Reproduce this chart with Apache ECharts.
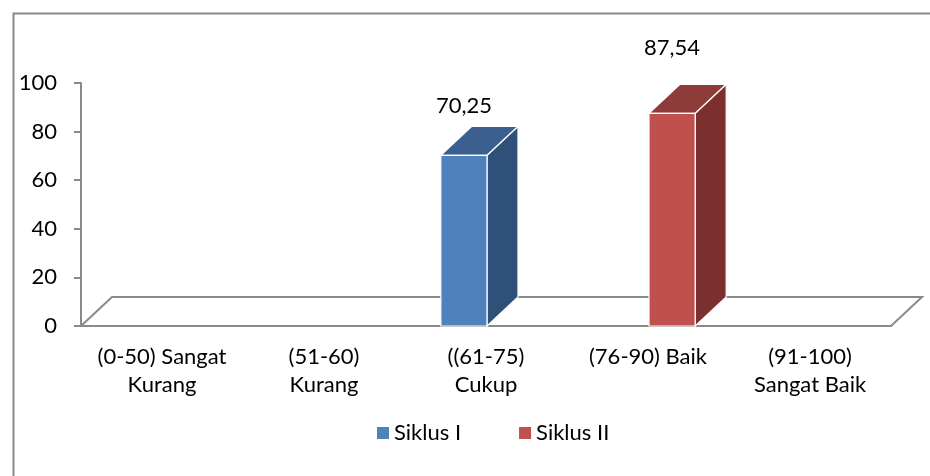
<!DOCTYPE html>
<html>
<head>
<meta charset="utf-8">
<script src="https://cdn.jsdelivr.net/npm/echarts@6/dist/echarts.min.js"></script>
<style>
  html, body { margin: 0; padding: 0; background: #fff; }
  #chart { width: 930px; height: 476px; }
</style>
</head>
<body>
<div id="chart"></div>
<script>
// data
const categories = ['(0-50) Sangat\nKurang', '(51-60)\nKurang', '((61-75)\nCukup', '(76-90) Baik', '(91-100)\nSangat Baik']
const seriesNames = ['Siklus I', 'Siklus II']
const siklus1 = [null, null, 70.25, null, null]
const siklus2 = [null, null, null, 87.54, null]
const yTicks = [0, 20, 40, 60, 80, 100]

// style
const FONT = 'Lato'
const AXIS_GRAY = '#8a8a8a'
const DEPTH_X = 31
const DEPTH_Y = 29
const BAR_RATIO = 0.285
const colors = [
  { front: '#4F81BD', side: '#2F5179', top: '#3B6090' },
  { front: '#C0504D', side: '#7B2F2E', top: '#8E3B39' },
]
const labelLift = [20, 36]

const chart = echarts.init(document.getElementById('chart'))

function toPairs(vals) {
  return vals.map((v, i) => [i, v]).filter(d => d[1] != null)
}

// 3D column drawn from category/value scales
function barRenderer(slot, col, lift) {
  return function (params, api) {
    const idx = api.value(0)
    const val = api.value(1)
    const top = api.coord([idx, val])
    const base = api.coord([idx, 0])
    const band = api.size([1, 0])[0]
    const w = band * BAR_RATIO
    const x0 = top[0] + slot * w + 1
    const x1 = x0 + w
    const yt = top[1]
    const yb = base[1]
    const edge = { stroke: '#fff', lineWidth: 1.2 }
    return {
      type: 'group',
      children: [
        { type: 'polygon', shape: { points: [[x1, yt], [x1 + DEPTH_X, yt - DEPTH_Y], [x1 + DEPTH_X, yb - DEPTH_Y], [x1, yb]] },
          style: Object.assign({ fill: col.side }, edge) },
        { type: 'polygon', shape: { points: [[x0, yt], [x0 + DEPTH_X, yt - DEPTH_Y], [x1 + DEPTH_X, yt - DEPTH_Y], [x1, yt]] },
          style: Object.assign({ fill: col.top }, edge) },
        { type: 'rect', shape: { x: x0, y: yt, width: w, height: yb - yt },
          style: Object.assign({ fill: col.front }, edge) },
        { type: 'text', x: (x0 + x1) / 2, y: yt - DEPTH_Y - lift,
          style: { text: String(val).replace('.', ','), fill: '#000', font: '22px ' + FONT, align: 'center', verticalAlign: 'middle' } },
      ],
    }
  }
}

// floor of the 3D plot
function floorRenderer(params, api) {
  const band = api.size([1, 0])[0]
  const l = api.coord([0, 0])
  const r = api.coord([categories.length - 1, 0])
  const xl = l[0] - band / 2
  const xr = r[0] + band / 2
  const y = l[1]
  return {
    type: 'polygon',
    shape: { points: [[xl, y], [xl + DEPTH_X, y - DEPTH_Y], [xr + DEPTH_X, y - DEPTH_Y], [xr, y]] },
    style: { fill: '#fff', stroke: AXIS_GRAY, lineWidth: 2 },
  }
}

chart.setOption({
  animation: false,
  textStyle: { fontFamily: FONT },
  graphic: [{
    type: 'rect', left: 11, top: 11,
    shape: { width: 940, height: 480 },
    style: { fill: 'none', stroke: AXIS_GRAY, lineWidth: 2 },
  }],
  grid: { left: 81, right: 39, top: 83, bottom: 150 },
  legend: {
    data: seriesNames,
    left: 377, top: 422, padding: 0,
    icon: 'rect', itemWidth: 12, itemHeight: 12, itemGap: 58,
    textStyle: { fontFamily: FONT, fontSize: 22, color: '#000' },
  },
  xAxis: {
    type: 'category',
    data: categories,
    axisLine: { lineStyle: { color: AXIS_GRAY, width: 2 } },
    axisTick: { length: 5, lineStyle: { color: AXIS_GRAY, width: 2 } },
    axisLabel: { color: '#000', fontSize: 22, lineHeight: 28, margin: 17, interval: 0 },
  },
  yAxis: {
    type: 'value',
    min: yTicks[0], max: yTicks[yTicks.length - 1], interval: yTicks[1] - yTicks[0],
    axisLine: { show: true, lineStyle: { color: AXIS_GRAY, width: 2 } },
    axisTick: { show: true, length: 7, lineStyle: { color: AXIS_GRAY, width: 2 } },
    axisLabel: { color: '#000', fontSize: 22, margin: 24 },
    splitLine: { show: false },
  },
  series: [
    { type: 'custom', name: 'floor', silent: true, z: 1, renderItem: floorRenderer, data: [[0, 0]] },
    { type: 'custom', name: seriesNames[0], z: 3, itemStyle: { color: colors[0].front },
      renderItem: barRenderer(-1, colors[0], labelLift[0]), data: toPairs(siklus1) },
    { type: 'custom', name: seriesNames[1], z: 3, itemStyle: { color: colors[1].front },
      renderItem: barRenderer(0, colors[1], labelLift[1]), data: toPairs(siklus2) },
  ],
})
</script>
</body>
</html>
